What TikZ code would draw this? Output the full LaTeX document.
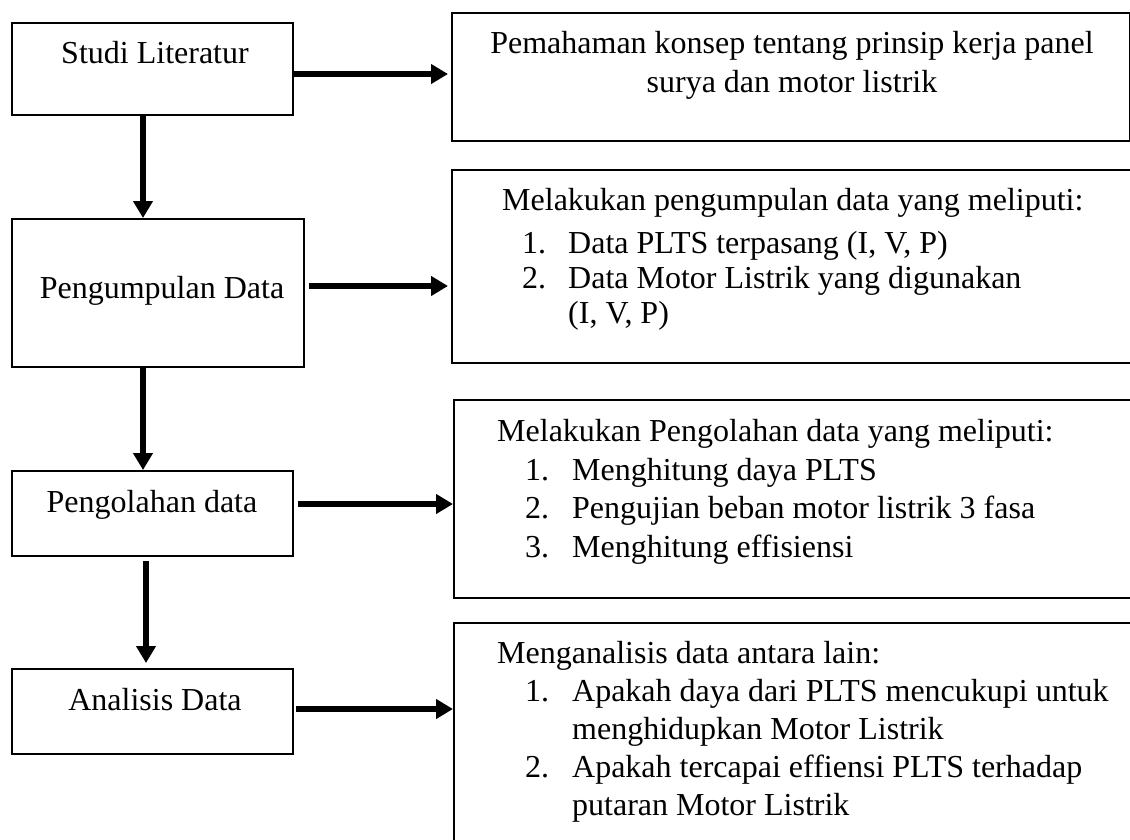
\documentclass[tikz,border=0pt]{standalone}
\usepackage{fontspec}
\setmainfont{Liberation Serif}
\usetikzlibrary{arrows.meta,calc}

% numbered line: indent, width of the number box, number
\newcommand{\numline}[3]{\hspace*{#1}\makebox[#2][l]{#3}}

\begin{document}
\begin{tikzpicture}[x=1pt,y=-1pt,
    box/.style={draw, line width=1.8pt, inner sep=0pt, anchor=north west},
    txt/.style={inner sep=0pt, align=left, font=\fontsize{32}{38.5}\selectfont},
    arr/.style={line width=5.5pt, -{Triangle[length=17pt,width=19pt]}}]
    \useasboundingbox (0,0) rectangle (1130,839);
    \clip (0,0) rectangle (1130,839);

    % Define the boxes of the steps
    \node[box, minimum width=281, minimum height=92] (studi) at (11,22) {};
    \node[box, minimum width=292, minimum height=148] (kumpul) at (11,218) {};
    \node[box, minimum width=281, minimum height=85] (olah) at (11,470) {};
    \node[box, minimum width=281, minimum height=85] (analisis) at (11,668) {};

    % Define the boxes of the explanations
    \node[box, minimum width=678, minimum height=128] (paham) at (451,12) {};
    \node[box, minimum width=700, minimum height=193] (dataket) at (451,169) {};
    \node[box, minimum width=700, minimum height=198] (olahket) at (453,399) {};
    \node[box, minimum width=700, minimum height=240] (analisisket) at (453,622) {};

    % Place the texts of the steps
    \node[txt, anchor=base] (studiT) at (155,63) {Studi Literatur};
    \node[txt, anchor=base] (kumpulT) at (162,298) {Pengumpulan Data};
    \node[txt, anchor=base] (olahT) at (152,512) {Pengolahan data};
    \node[txt, anchor=base] (analisisT) at (155,710) {Analisis Data};

    % Place the texts of the explanations (base = last line)
    \node[txt, align=center, anchor=base] (pahamT) at (792,92)
        {Pemahaman konsep tentang prinsip kerja panel\\surya dan motor listrik};
    \node[txt, anchor=base west, font=\fontsize{32}{35}\selectfont] (dataketT) at (502,323)
        {Melakukan pengumpulan data yang meliputi:\\[8pt]
         \numline{20pt}{46pt}{1.}Data PLTS terpasang (I, V, P)\\
         \numline{20pt}{46pt}{2.}Data Motor Listrik yang digunakan\\
         \hspace*{66pt}(I, V, P)};
    \node[txt, anchor=base west] (olahketT) at (497,557)
        {Melakukan Pengolahan data yang meliputi:\\
         \numline{28pt}{47pt}{1.}Menghitung daya PLTS\\
         \numline{28pt}{47pt}{2.}Pengujian beban motor listrik 3 fasa\\
         \numline{28pt}{47pt}{3.}Menghitung effisiensi};
    \node[txt, anchor=base west, font=\fontsize{32}{38}\selectfont] (analisisketT) at (497,815)
        {Menganalisis data antara lain:\\
         \numline{28pt}{47pt}{1.}Apakah daya dari PLTS mencukupi untuk\\
         \hspace*{75pt}menghidupkan Motor Listrik\\
         \numline{28pt}{47pt}{2.}Apakah tercapai effiensi PLTS terhadap\\
         \hspace*{75pt}putaran Motor Listrik};

    % Draw the arrows down
    \draw[arr] (studi.south -| 143,0) -- (kumpul.north -| 143,0);
    \draw[arr] (kumpul.south -| 143,0) -- (olah.north -| 143,0);
    \draw[arr, shorten <=4pt, shorten >=5pt] (olah.south -| 146,0) -- (analisis.north -| 146,0);

    % Draw the arrows to the right
    \draw[arr, shorten >=3pt] (studi.east |- 0,74) -- (paham.west |- 0,74);
    \draw[arr, shorten <=4pt, shorten >=3pt] (kumpul.east |- 0,286) -- (dataket.west |- 0,286);
    \draw[arr, shorten <=4pt] (olah.east |- 0,504) -- (olahket.west |- 0,504);
    \draw[arr, shorten <=2pt] (analisis.east |- 0,709) -- (analisisket.west |- 0,709);

\end{tikzpicture}
\end{document}
